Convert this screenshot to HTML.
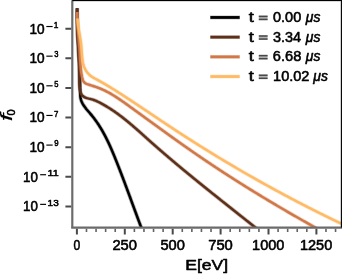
<!DOCTYPE html><html><head><meta charset="utf-8"><style>html,body{margin:0;padding:0;background:#fff;overflow:hidden}svg{display:block;will-change:transform}</style></head><body><svg xmlns="http://www.w3.org/2000/svg" width="342" height="274" viewBox="0 0 342 274"><defs><clipPath id="ax"><rect x="72.30" y="0.30" width="269.40" height="227.30"/></clipPath></defs><rect width="100%" height="100%" fill="#fff"/><g><g clip-path="url(#ax)" fill="none" stroke-width="2.5" stroke-linejoin="round" stroke-linecap="butt"><path d="M77.15,8.25 L77.13,9.29 L77.11,10.33 L77.10,11.37 L77.09,12.40 L77.09,13.42 L77.09,14.45 L77.09,15.47 L77.09,16.48 L77.10,17.50 L77.11,18.51 L77.12,19.52 L77.14,20.52 L77.16,21.52 L77.18,22.52 L77.20,23.52 L77.23,24.52 L77.26,25.51 L77.29,26.50 L77.32,27.49 L77.36,28.48 L77.40,29.46 L77.44,30.45 L77.48,31.43 L77.52,32.41 L77.56,33.39 L77.61,34.37 L77.66,35.35 L77.70,36.33 L77.75,37.31 L77.81,38.28 L77.86,39.26 L77.91,40.23 L77.97,41.21 L78.02,42.18 L78.08,43.16 L78.13,44.13 L78.19,45.11 L78.25,46.09 L78.31,47.06 L78.36,48.04 L78.42,49.02 L78.48,49.99 L78.54,50.97 L78.60,51.95 L78.66,52.94 L78.72,53.92 L78.77,54.90 L78.83,55.89 L78.89,56.88 L78.95,57.87 L79.00,58.86 L79.06,59.85 L79.11,60.85 L79.17,61.85 L79.22,62.85 L79.27,63.85 L79.32,64.85 L79.37,65.86 L79.42,66.87 L79.47,67.89 L79.51,68.90 L79.56,69.92 L79.60,70.95 L79.64,71.98 L79.68,73.01 L79.71,74.04 L79.75,75.08 L79.78,76.12 L79.81,77.17 L79.84,78.21 L79.87,79.26 L79.90,80.31 L79.92,81.36 L79.95,82.41 L79.97,83.45 L80.00,84.50 L80.02,85.54 L80.04,86.57 L80.07,87.60 L80.09,88.63 L80.12,89.65 L80.15,90.66 L80.18,91.66 L80.21,92.66 L80.24,93.64 L80.28,94.61 L80.32,95.58 L80.40,96.52 L80.50,97.46 L80.65,98.38 L80.85,99.28 L81.10,100.17 L81.41,101.04 L81.76,101.90 L82.15,102.75 L82.59,103.58 L83.06,104.40 L83.57,105.22 L84.10,106.02 L84.67,106.82 L85.26,107.61 L85.87,108.40 L86.49,109.18 L87.14,109.96 L87.79,110.73 L88.45,111.51 L89.11,112.28 L89.78,113.06 L90.44,113.83 L91.10,114.62 L91.75,115.40 L92.39,116.19 L93.02,116.99 L93.64,117.78 L94.25,118.59 L94.86,119.39 L95.45,120.20 L96.04,121.02 L96.61,121.84 L97.18,122.66 L97.74,123.49 L98.30,124.32 L98.84,125.15 L99.38,125.99 L99.91,126.83 L100.43,127.68 L100.95,128.52 L101.46,129.38 L101.96,130.23 L102.45,131.09 L102.94,131.95 L103.42,132.82 L103.90,133.68 L104.37,134.55 L104.84,135.43 L105.30,136.30 L105.75,137.18 L106.20,138.06 L106.64,138.95 L107.08,139.83 L107.51,140.72 L107.94,141.61 L108.37,142.51 L108.79,143.40 L109.20,144.30 L109.62,145.20 L110.02,146.10 L110.43,147.01 L110.83,147.91 L111.23,148.82 L111.62,149.73 L112.02,150.64 L112.40,151.56 L112.79,152.47 L113.18,153.39 L113.56,154.31 L113.94,155.22 L114.31,156.14 L114.69,157.07 L115.06,157.99 L115.44,158.91 L115.81,159.84 L116.18,160.76 L116.55,161.69 L116.92,162.62 L117.28,163.55 L117.65,164.47 L118.02,165.40 L118.38,166.33 L118.75,167.27 L119.11,168.20 L119.47,169.13 L119.83,170.06 L120.19,171.00 L120.55,171.93 L120.91,172.87 L121.27,173.80 L121.63,174.74 L121.99,175.68 L122.34,176.61 L122.70,177.55 L123.05,178.49 L123.41,179.43 L123.76,180.37 L124.12,181.31 L124.47,182.24 L124.82,183.18 L125.17,184.12 L125.52,185.07 L125.87,186.01 L126.23,186.95 L126.58,187.89 L126.93,188.83 L127.27,189.77 L127.62,190.71 L127.97,191.65 L128.32,192.59 L128.67,193.54 L129.02,194.48 L129.36,195.42 L129.71,196.36 L130.06,197.30 L130.40,198.24 L130.75,199.19 L131.10,200.13 L131.44,201.07 L131.79,202.01 L132.13,202.95 L132.48,203.89 L132.82,204.83 L133.17,205.77 L133.51,206.71 L133.86,207.65 L134.20,208.59 L134.55,209.53 L134.90,210.46 L135.24,211.40 L135.59,212.34 L135.93,213.28 L136.28,214.21 L136.62,215.15 L136.97,216.08 L137.31,217.02 L137.66,217.95 L138.01,218.88 L138.35,219.82 L138.70,220.75 L139.05,221.68 L139.39,222.61 L139.74,223.54 L140.09,224.47 L140.44,225.40 L140.79,226.33 L141.13,227.25 L141.48,228.18 L141.83,229.10 L142.18,230.03 L142.53,230.95" stroke="#000000" stroke-width="4.0" stroke-opacity="0.3"/><path d="M77.15,8.25 L77.13,9.29 L77.11,10.33 L77.10,11.37 L77.09,12.40 L77.09,13.42 L77.09,14.45 L77.09,15.47 L77.09,16.48 L77.10,17.50 L77.11,18.51 L77.12,19.52 L77.14,20.52 L77.16,21.52 L77.18,22.52 L77.20,23.52 L77.23,24.52 L77.26,25.51 L77.29,26.50 L77.32,27.49 L77.36,28.48 L77.40,29.46 L77.44,30.45 L77.48,31.43 L77.52,32.41 L77.56,33.39 L77.61,34.37 L77.66,35.35 L77.70,36.33 L77.75,37.31 L77.81,38.28 L77.86,39.26 L77.91,40.23 L77.97,41.21 L78.02,42.18 L78.08,43.16 L78.13,44.13 L78.19,45.11 L78.25,46.09 L78.31,47.06 L78.36,48.04 L78.42,49.02 L78.48,49.99 L78.54,50.97 L78.60,51.95 L78.66,52.94 L78.72,53.92 L78.77,54.90 L78.83,55.89 L78.89,56.88 L78.95,57.87 L79.00,58.86 L79.06,59.85 L79.11,60.85 L79.17,61.85 L79.22,62.85 L79.27,63.85 L79.32,64.85 L79.37,65.86 L79.42,66.87 L79.47,67.89 L79.51,68.90 L79.56,69.92 L79.60,70.95 L79.64,71.98 L79.68,73.01 L79.71,74.04 L79.75,75.08 L79.78,76.12 L79.81,77.17 L79.84,78.21 L79.87,79.26 L79.90,80.31 L79.92,81.36 L79.95,82.41 L79.97,83.45 L80.00,84.50 L80.02,85.54 L80.04,86.57 L80.07,87.60 L80.09,88.63 L80.12,89.65 L80.15,90.66 L80.18,91.66 L80.21,92.66 L80.24,93.64 L80.28,94.61 L80.32,95.58 L80.40,96.52 L80.50,97.46 L80.65,98.38 L80.85,99.28 L81.10,100.17 L81.41,101.04 L81.76,101.90 L82.15,102.75 L82.59,103.58 L83.06,104.40 L83.57,105.22 L84.10,106.02 L84.67,106.82 L85.26,107.61 L85.87,108.40 L86.49,109.18 L87.14,109.96 L87.79,110.73 L88.45,111.51 L89.11,112.28 L89.78,113.06 L90.44,113.83 L91.10,114.62 L91.75,115.40 L92.39,116.19 L93.02,116.99 L93.64,117.78 L94.25,118.59 L94.86,119.39 L95.45,120.20 L96.04,121.02 L96.61,121.84 L97.18,122.66 L97.74,123.49 L98.30,124.32 L98.84,125.15 L99.38,125.99 L99.91,126.83 L100.43,127.68 L100.95,128.52 L101.46,129.38 L101.96,130.23 L102.45,131.09 L102.94,131.95 L103.42,132.82 L103.90,133.68 L104.37,134.55 L104.84,135.43 L105.30,136.30 L105.75,137.18 L106.20,138.06 L106.64,138.95 L107.08,139.83 L107.51,140.72 L107.94,141.61 L108.37,142.51 L108.79,143.40 L109.20,144.30 L109.62,145.20 L110.02,146.10 L110.43,147.01 L110.83,147.91 L111.23,148.82 L111.62,149.73 L112.02,150.64 L112.40,151.56 L112.79,152.47 L113.18,153.39 L113.56,154.31 L113.94,155.22 L114.31,156.14 L114.69,157.07 L115.06,157.99 L115.44,158.91 L115.81,159.84 L116.18,160.76 L116.55,161.69 L116.92,162.62 L117.28,163.55 L117.65,164.47 L118.02,165.40 L118.38,166.33 L118.75,167.27 L119.11,168.20 L119.47,169.13 L119.83,170.06 L120.19,171.00 L120.55,171.93 L120.91,172.87 L121.27,173.80 L121.63,174.74 L121.99,175.68 L122.34,176.61 L122.70,177.55 L123.05,178.49 L123.41,179.43 L123.76,180.37 L124.12,181.31 L124.47,182.24 L124.82,183.18 L125.17,184.12 L125.52,185.07 L125.87,186.01 L126.23,186.95 L126.58,187.89 L126.93,188.83 L127.27,189.77 L127.62,190.71 L127.97,191.65 L128.32,192.59 L128.67,193.54 L129.02,194.48 L129.36,195.42 L129.71,196.36 L130.06,197.30 L130.40,198.24 L130.75,199.19 L131.10,200.13 L131.44,201.07 L131.79,202.01 L132.13,202.95 L132.48,203.89 L132.82,204.83 L133.17,205.77 L133.51,206.71 L133.86,207.65 L134.20,208.59 L134.55,209.53 L134.90,210.46 L135.24,211.40 L135.59,212.34 L135.93,213.28 L136.28,214.21 L136.62,215.15 L136.97,216.08 L137.31,217.02 L137.66,217.95 L138.01,218.88 L138.35,219.82 L138.70,220.75 L139.05,221.68 L139.39,222.61 L139.74,223.54 L140.09,224.47 L140.44,225.40 L140.79,226.33 L141.13,227.25 L141.48,228.18 L141.83,229.10 L142.18,230.03 L142.53,230.95" stroke="#000000"/><path d="M77.14,8.25 L77.12,9.30 L77.10,10.34 L77.09,11.38 L77.08,12.42 L77.08,13.45 L77.08,14.48 L77.08,15.50 L77.08,16.52 L77.09,17.54 L77.11,18.55 L77.12,19.56 L77.14,20.57 L77.16,21.57 L77.19,22.57 L77.21,23.57 L77.24,24.57 L77.28,25.56 L77.31,26.55 L77.35,27.54 L77.39,28.52 L77.43,29.51 L77.47,30.49 L77.51,31.47 L77.56,32.45 L77.60,33.43 L77.65,34.41 L77.70,35.38 L77.75,36.36 L77.80,37.33 L77.86,38.31 L77.91,39.28 L77.96,40.25 L78.02,41.22 L78.07,42.20 L78.13,43.17 L78.18,44.15 L78.24,45.12 L78.29,46.09 L78.35,47.07 L78.40,48.05 L78.46,49.02 L78.51,50.00 L78.56,50.98 L78.62,51.96 L78.67,52.95 L78.72,53.93 L78.77,54.92 L78.82,55.91 L78.86,56.90 L78.91,57.90 L78.95,58.89 L78.99,59.89 L79.03,60.89 L79.07,61.90 L79.11,62.91 L79.14,63.92 L79.17,64.94 L79.20,65.95 L79.23,66.98 L79.25,68.00 L79.28,69.03 L79.29,70.07 L79.31,71.11 L79.32,72.15 L79.33,73.20 L79.34,74.25 L79.34,75.31 L79.34,76.38 L79.34,77.44 L79.34,78.51 L79.34,79.57 L79.35,80.63 L79.36,81.68 L79.38,82.73 L79.41,83.77 L79.46,84.79 L79.52,85.80 L79.59,86.80 L79.68,87.77 L79.80,88.73 L79.93,89.66 L80.09,90.57 L80.28,91.45 L80.50,92.31 L80.78,93.13 L81.16,93.92 L81.64,94.68 L82.22,95.38 L82.89,96.03 L83.64,96.60 L84.44,97.09 L85.29,97.51 L86.17,97.86 L87.08,98.15 L88.02,98.41 L88.97,98.65 L89.93,98.87 L90.90,99.10 L91.86,99.35 L92.83,99.64 L93.78,99.96 L94.73,100.32 L95.67,100.71 L96.61,101.12 L97.54,101.55 L98.46,102.00 L99.38,102.47 L100.29,102.94 L101.20,103.42 L102.09,103.91 L102.99,104.40 L103.87,104.90 L104.76,105.40 L105.63,105.91 L106.50,106.43 L107.37,106.95 L108.23,107.48 L109.09,108.01 L109.94,108.55 L110.78,109.10 L111.62,109.65 L112.46,110.20 L113.29,110.76 L114.12,111.32 L114.94,111.89 L115.76,112.47 L116.58,113.05 L117.39,113.63 L118.20,114.22 L119.00,114.81 L119.80,115.40 L120.60,116.00 L121.39,116.61 L122.18,117.21 L122.97,117.82 L123.75,118.44 L124.53,119.05 L125.31,119.68 L126.08,120.30 L126.85,120.93 L127.62,121.56 L128.39,122.19 L129.16,122.82 L129.92,123.46 L130.68,124.10 L131.44,124.74 L132.19,125.39 L132.95,126.04 L133.70,126.68 L134.45,127.33 L135.20,127.99 L135.95,128.64 L136.70,129.30 L137.45,129.95 L138.19,130.61 L138.94,131.27 L139.68,131.93 L140.42,132.59 L141.16,133.26 L141.91,133.92 L142.65,134.58 L143.39,135.25 L144.13,135.91 L144.87,136.58 L145.61,137.24 L146.35,137.91 L147.09,138.57 L147.83,139.24 L148.58,139.90 L149.32,140.57 L150.06,141.23 L150.81,141.89 L151.55,142.56 L152.30,143.22 L153.04,143.88 L153.79,144.54 L154.54,145.20 L155.29,145.86 L156.04,146.52 L156.79,147.17 L157.54,147.83 L158.29,148.49 L159.04,149.14 L159.79,149.80 L160.55,150.45 L161.30,151.11 L162.06,151.76 L162.81,152.41 L163.57,153.07 L164.33,153.72 L165.08,154.37 L165.84,155.02 L166.60,155.67 L167.36,156.32 L168.12,156.97 L168.88,157.62 L169.64,158.26 L170.41,158.91 L171.17,159.56 L171.93,160.20 L172.70,160.85 L173.46,161.50 L174.23,162.14 L174.99,162.79 L175.76,163.43 L176.52,164.07 L177.29,164.72 L178.06,165.36 L178.83,166.00 L179.60,166.64 L180.36,167.28 L181.13,167.92 L181.90,168.56 L182.68,169.20 L183.45,169.84 L184.22,170.48 L184.99,171.12 L185.76,171.76 L186.53,172.39 L187.31,173.03 L188.08,173.67 L188.86,174.30 L189.63,174.94 L190.40,175.57 L191.18,176.21 L191.96,176.84 L192.73,177.48 L193.51,178.11 L194.28,178.75 L195.06,179.38 L195.84,180.01 L196.62,180.64 L197.39,181.28 L198.17,181.91 L198.95,182.54 L199.73,183.17 L200.51,183.80 L201.29,184.43 L202.07,185.06 L202.85,185.69 L203.63,186.32 L204.41,186.95 L205.19,187.58 L205.97,188.21 L206.75,188.83 L207.53,189.46 L208.31,190.09 L209.09,190.72 L209.87,191.34 L210.66,191.97 L211.44,192.60 L212.22,193.22 L213.00,193.85 L213.79,194.48 L214.57,195.10 L215.35,195.73 L216.13,196.35 L216.92,196.98 L217.70,197.60 L218.48,198.23 L219.27,198.85 L220.05,199.47 L220.83,200.10 L221.62,200.72 L222.40,201.35 L223.18,201.97 L223.97,202.59 L224.75,203.22 L225.54,203.84 L226.32,204.46 L227.10,205.08 L227.89,205.71 L228.67,206.33 L229.45,206.95 L230.24,207.57 L231.02,208.19 L231.80,208.82 L232.59,209.44 L233.37,210.06 L234.15,210.68 L234.94,211.30 L235.72,211.92 L236.50,212.54 L237.29,213.16 L238.07,213.78 L238.85,214.41 L239.63,215.03 L240.42,215.65 L241.20,216.27 L241.98,216.89 L242.76,217.51 L243.55,218.13 L244.33,218.75 L245.11,219.37 L245.89,219.99 L246.67,220.61 L247.45,221.23 L248.23,221.85 L249.01,222.47 L249.79,223.09 L250.57,223.71 L251.35,224.33 L252.13,224.95 L252.91,225.57 L253.69,226.19 L254.47,226.81 L255.25,227.43 L256.03,228.05 L256.80,228.67 L257.58,229.29 L258.36,229.91 L259.13,230.54 L259.91,231.16" stroke="#5e301a" stroke-width="4.0" stroke-opacity="0.3"/><path d="M77.14,8.25 L77.12,9.30 L77.10,10.34 L77.09,11.38 L77.08,12.42 L77.08,13.45 L77.08,14.48 L77.08,15.50 L77.08,16.52 L77.09,17.54 L77.11,18.55 L77.12,19.56 L77.14,20.57 L77.16,21.57 L77.19,22.57 L77.21,23.57 L77.24,24.57 L77.28,25.56 L77.31,26.55 L77.35,27.54 L77.39,28.52 L77.43,29.51 L77.47,30.49 L77.51,31.47 L77.56,32.45 L77.60,33.43 L77.65,34.41 L77.70,35.38 L77.75,36.36 L77.80,37.33 L77.86,38.31 L77.91,39.28 L77.96,40.25 L78.02,41.22 L78.07,42.20 L78.13,43.17 L78.18,44.15 L78.24,45.12 L78.29,46.09 L78.35,47.07 L78.40,48.05 L78.46,49.02 L78.51,50.00 L78.56,50.98 L78.62,51.96 L78.67,52.95 L78.72,53.93 L78.77,54.92 L78.82,55.91 L78.86,56.90 L78.91,57.90 L78.95,58.89 L78.99,59.89 L79.03,60.89 L79.07,61.90 L79.11,62.91 L79.14,63.92 L79.17,64.94 L79.20,65.95 L79.23,66.98 L79.25,68.00 L79.28,69.03 L79.29,70.07 L79.31,71.11 L79.32,72.15 L79.33,73.20 L79.34,74.25 L79.34,75.31 L79.34,76.38 L79.34,77.44 L79.34,78.51 L79.34,79.57 L79.35,80.63 L79.36,81.68 L79.38,82.73 L79.41,83.77 L79.46,84.79 L79.52,85.80 L79.59,86.80 L79.68,87.77 L79.80,88.73 L79.93,89.66 L80.09,90.57 L80.28,91.45 L80.50,92.31 L80.78,93.13 L81.16,93.92 L81.64,94.68 L82.22,95.38 L82.89,96.03 L83.64,96.60 L84.44,97.09 L85.29,97.51 L86.17,97.86 L87.08,98.15 L88.02,98.41 L88.97,98.65 L89.93,98.87 L90.90,99.10 L91.86,99.35 L92.83,99.64 L93.78,99.96 L94.73,100.32 L95.67,100.71 L96.61,101.12 L97.54,101.55 L98.46,102.00 L99.38,102.47 L100.29,102.94 L101.20,103.42 L102.09,103.91 L102.99,104.40 L103.87,104.90 L104.76,105.40 L105.63,105.91 L106.50,106.43 L107.37,106.95 L108.23,107.48 L109.09,108.01 L109.94,108.55 L110.78,109.10 L111.62,109.65 L112.46,110.20 L113.29,110.76 L114.12,111.32 L114.94,111.89 L115.76,112.47 L116.58,113.05 L117.39,113.63 L118.20,114.22 L119.00,114.81 L119.80,115.40 L120.60,116.00 L121.39,116.61 L122.18,117.21 L122.97,117.82 L123.75,118.44 L124.53,119.05 L125.31,119.68 L126.08,120.30 L126.85,120.93 L127.62,121.56 L128.39,122.19 L129.16,122.82 L129.92,123.46 L130.68,124.10 L131.44,124.74 L132.19,125.39 L132.95,126.04 L133.70,126.68 L134.45,127.33 L135.20,127.99 L135.95,128.64 L136.70,129.30 L137.45,129.95 L138.19,130.61 L138.94,131.27 L139.68,131.93 L140.42,132.59 L141.16,133.26 L141.91,133.92 L142.65,134.58 L143.39,135.25 L144.13,135.91 L144.87,136.58 L145.61,137.24 L146.35,137.91 L147.09,138.57 L147.83,139.24 L148.58,139.90 L149.32,140.57 L150.06,141.23 L150.81,141.89 L151.55,142.56 L152.30,143.22 L153.04,143.88 L153.79,144.54 L154.54,145.20 L155.29,145.86 L156.04,146.52 L156.79,147.17 L157.54,147.83 L158.29,148.49 L159.04,149.14 L159.79,149.80 L160.55,150.45 L161.30,151.11 L162.06,151.76 L162.81,152.41 L163.57,153.07 L164.33,153.72 L165.08,154.37 L165.84,155.02 L166.60,155.67 L167.36,156.32 L168.12,156.97 L168.88,157.62 L169.64,158.26 L170.41,158.91 L171.17,159.56 L171.93,160.20 L172.70,160.85 L173.46,161.50 L174.23,162.14 L174.99,162.79 L175.76,163.43 L176.52,164.07 L177.29,164.72 L178.06,165.36 L178.83,166.00 L179.60,166.64 L180.36,167.28 L181.13,167.92 L181.90,168.56 L182.68,169.20 L183.45,169.84 L184.22,170.48 L184.99,171.12 L185.76,171.76 L186.53,172.39 L187.31,173.03 L188.08,173.67 L188.86,174.30 L189.63,174.94 L190.40,175.57 L191.18,176.21 L191.96,176.84 L192.73,177.48 L193.51,178.11 L194.28,178.75 L195.06,179.38 L195.84,180.01 L196.62,180.64 L197.39,181.28 L198.17,181.91 L198.95,182.54 L199.73,183.17 L200.51,183.80 L201.29,184.43 L202.07,185.06 L202.85,185.69 L203.63,186.32 L204.41,186.95 L205.19,187.58 L205.97,188.21 L206.75,188.83 L207.53,189.46 L208.31,190.09 L209.09,190.72 L209.87,191.34 L210.66,191.97 L211.44,192.60 L212.22,193.22 L213.00,193.85 L213.79,194.48 L214.57,195.10 L215.35,195.73 L216.13,196.35 L216.92,196.98 L217.70,197.60 L218.48,198.23 L219.27,198.85 L220.05,199.47 L220.83,200.10 L221.62,200.72 L222.40,201.35 L223.18,201.97 L223.97,202.59 L224.75,203.22 L225.54,203.84 L226.32,204.46 L227.10,205.08 L227.89,205.71 L228.67,206.33 L229.45,206.95 L230.24,207.57 L231.02,208.19 L231.80,208.82 L232.59,209.44 L233.37,210.06 L234.15,210.68 L234.94,211.30 L235.72,211.92 L236.50,212.54 L237.29,213.16 L238.07,213.78 L238.85,214.41 L239.63,215.03 L240.42,215.65 L241.20,216.27 L241.98,216.89 L242.76,217.51 L243.55,218.13 L244.33,218.75 L245.11,219.37 L245.89,219.99 L246.67,220.61 L247.45,221.23 L248.23,221.85 L249.01,222.47 L249.79,223.09 L250.57,223.71 L251.35,224.33 L252.13,224.95 L252.91,225.57 L253.69,226.19 L254.47,226.81 L255.25,227.43 L256.03,228.05 L256.80,228.67 L257.58,229.29 L258.36,229.91 L259.13,230.54 L259.91,231.16" stroke="#5e301a"/><path d="M77.25,12.05 L77.24,13.03 L77.24,14.01 L77.24,14.99 L77.26,15.97 L77.27,16.96 L77.30,17.95 L77.33,18.94 L77.36,19.93 L77.40,20.92 L77.45,21.91 L77.50,22.90 L77.56,23.90 L77.62,24.89 L77.68,25.89 L77.75,26.88 L77.82,27.88 L77.89,28.88 L77.96,29.88 L78.04,30.88 L78.12,31.88 L78.20,32.88 L78.29,33.89 L78.37,34.89 L78.46,35.89 L78.54,36.90 L78.63,37.90 L78.72,38.90 L78.80,39.91 L78.89,40.91 L78.98,41.92 L79.06,42.92 L79.14,43.93 L79.23,44.93 L79.31,45.94 L79.38,46.94 L79.46,47.95 L79.53,48.95 L79.60,49.95 L79.66,50.96 L79.73,51.96 L79.79,52.96 L79.84,53.97 L79.89,54.97 L79.94,55.97 L79.99,56.97 L80.04,57.97 L80.09,58.97 L80.15,59.97 L80.20,60.97 L80.26,61.96 L80.32,62.96 L80.38,63.96 L80.45,64.95 L80.53,65.94 L80.62,66.93 L80.71,67.93 L80.81,68.91 L80.92,69.90 L81.04,70.89 L81.17,71.88 L81.31,72.86 L81.46,73.84 L81.63,74.82 L81.81,75.80 L82.00,76.78 L82.22,77.76 L82.46,78.72 L82.74,79.65 L83.09,80.53 L83.51,81.36 L84.02,82.10 L84.65,82.75 L85.40,83.29 L86.26,83.74 L87.19,84.11 L88.15,84.44 L89.11,84.75 L90.07,85.06 L91.01,85.36 L91.95,85.66 L92.88,85.95 L93.80,86.25 L94.71,86.55 L95.62,86.85 L96.52,87.16 L97.42,87.47 L98.31,87.80 L99.20,88.14 L100.09,88.49 L100.98,88.85 L101.86,89.23 L102.74,89.62 L103.62,90.03 L104.50,90.44 L105.38,90.87 L106.25,91.32 L107.13,91.77 L108.00,92.24 L108.87,92.71 L109.73,93.20 L110.60,93.69 L111.46,94.20 L112.33,94.71 L113.19,95.23 L114.05,95.76 L114.90,96.30 L115.76,96.84 L116.61,97.40 L117.47,97.95 L118.32,98.52 L119.17,99.09 L120.02,99.66 L120.86,100.24 L121.71,100.82 L122.55,101.41 L123.39,102.00 L124.24,102.59 L125.08,103.19 L125.91,103.79 L126.75,104.39 L127.59,104.99 L128.42,105.59 L129.25,106.19 L130.09,106.79 L130.92,107.39 L131.75,107.99 L132.58,108.59 L133.40,109.19 L134.23,109.79 L135.06,110.39 L135.88,110.99 L136.70,111.59 L137.53,112.18 L138.35,112.78 L139.17,113.38 L139.99,113.97 L140.81,114.57 L141.63,115.16 L142.44,115.76 L143.26,116.35 L144.07,116.94 L144.89,117.53 L145.70,118.13 L146.52,118.72 L147.33,119.31 L148.14,119.90 L148.95,120.49 L149.76,121.08 L150.57,121.66 L151.38,122.25 L152.19,122.84 L153.00,123.43 L153.81,124.01 L154.61,124.60 L155.42,125.19 L156.23,125.77 L157.03,126.36 L157.84,126.94 L158.64,127.52 L159.45,128.11 L160.25,128.69 L161.06,129.27 L161.86,129.85 L162.67,130.43 L163.47,131.01 L164.27,131.59 L165.08,132.17 L165.88,132.75 L166.68,133.33 L167.48,133.91 L168.29,134.49 L169.09,135.06 L169.89,135.64 L170.69,136.22 L171.50,136.79 L172.30,137.37 L173.10,137.94 L173.90,138.52 L174.71,139.09 L175.51,139.66 L176.31,140.24 L177.12,140.81 L177.92,141.38 L178.72,141.95 L179.53,142.52 L180.33,143.09 L181.14,143.66 L181.94,144.23 L182.75,144.80 L183.55,145.37 L184.36,145.94 L185.16,146.51 L185.97,147.07 L186.78,147.64 L187.58,148.21 L188.39,148.77 L189.20,149.34 L190.01,149.90 L190.82,150.47 L191.63,151.03 L192.44,151.60 L193.25,152.16 L194.07,152.72 L194.88,153.28 L195.69,153.85 L196.51,154.41 L197.32,154.97 L198.14,155.53 L198.96,156.09 L199.77,156.65 L200.59,157.21 L201.41,157.77 L202.23,158.32 L203.05,158.88 L203.88,159.44 L204.70,160.00 L205.52,160.55 L206.35,161.11 L207.17,161.66 L208.00,162.22 L208.82,162.77 L209.65,163.33 L210.48,163.88 L211.31,164.43 L212.14,164.99 L212.97,165.54 L213.80,166.09 L214.63,166.64 L215.47,167.19 L216.30,167.74 L217.13,168.29 L217.97,168.84 L218.80,169.39 L219.64,169.94 L220.48,170.49 L221.31,171.04 L222.15,171.58 L222.99,172.13 L223.83,172.68 L224.67,173.22 L225.51,173.77 L226.35,174.31 L227.20,174.86 L228.04,175.40 L228.88,175.94 L229.72,176.48 L230.57,177.03 L231.41,177.57 L232.26,178.11 L233.11,178.65 L233.95,179.19 L234.80,179.73 L235.65,180.27 L236.49,180.81 L237.34,181.34 L238.19,181.88 L239.04,182.42 L239.89,182.95 L240.74,183.49 L241.59,184.02 L242.45,184.56 L243.30,185.09 L244.15,185.63 L245.00,186.16 L245.86,186.69 L246.71,187.22 L247.56,187.75 L248.42,188.29 L249.27,188.82 L250.13,189.34 L250.98,189.87 L251.84,190.40 L252.70,190.93 L253.55,191.46 L254.41,191.98 L255.27,192.51 L256.12,193.03 L256.98,193.56 L257.84,194.08 L258.70,194.61 L259.56,195.13 L260.42,195.65 L261.28,196.18 L262.14,196.70 L263.00,197.22 L263.86,197.74 L264.72,198.26 L265.58,198.78 L266.44,199.29 L267.30,199.81 L268.16,200.33 L269.02,200.85 L269.89,201.36 L270.75,201.88 L271.61,202.39 L272.47,202.91 L273.34,203.42 L274.20,203.93 L275.06,204.44 L275.93,204.95 L276.79,205.47 L277.65,205.98 L278.52,206.49 L279.38,206.99 L280.24,207.50 L281.11,208.01 L281.97,208.52 L282.83,209.02 L283.70,209.53 L284.56,210.03 L285.43,210.54 L286.29,211.04 L287.16,211.55 L288.02,212.05 L288.88,212.55 L289.75,213.05 L290.61,213.55 L291.48,214.05 L292.34,214.55 L293.21,215.05 L294.07,215.55 L294.93,216.04 L295.80,216.54 L296.66,217.03 L297.53,217.53 L298.39,218.02 L299.25,218.52 L300.12,219.01 L300.98,219.50 L301.85,219.99 L302.71,220.48 L303.57,220.97 L304.44,221.46 L305.30,221.95 L306.16,222.44 L307.03,222.93 L307.89,223.41 L308.75,223.90 L309.61,224.39 L310.48,224.87 L311.34,225.35 L312.20,225.84 L313.06,226.32 L313.92,226.80 L314.79,227.28 L315.65,227.76 L316.51,228.24 L317.37,228.72 L318.23,229.20 L319.09,229.67 L319.95,230.15" stroke="#d07848" stroke-width="4.0" stroke-opacity="0.3"/><path d="M77.25,12.05 L77.24,13.03 L77.24,14.01 L77.24,14.99 L77.26,15.97 L77.27,16.96 L77.30,17.95 L77.33,18.94 L77.36,19.93 L77.40,20.92 L77.45,21.91 L77.50,22.90 L77.56,23.90 L77.62,24.89 L77.68,25.89 L77.75,26.88 L77.82,27.88 L77.89,28.88 L77.96,29.88 L78.04,30.88 L78.12,31.88 L78.20,32.88 L78.29,33.89 L78.37,34.89 L78.46,35.89 L78.54,36.90 L78.63,37.90 L78.72,38.90 L78.80,39.91 L78.89,40.91 L78.98,41.92 L79.06,42.92 L79.14,43.93 L79.23,44.93 L79.31,45.94 L79.38,46.94 L79.46,47.95 L79.53,48.95 L79.60,49.95 L79.66,50.96 L79.73,51.96 L79.79,52.96 L79.84,53.97 L79.89,54.97 L79.94,55.97 L79.99,56.97 L80.04,57.97 L80.09,58.97 L80.15,59.97 L80.20,60.97 L80.26,61.96 L80.32,62.96 L80.38,63.96 L80.45,64.95 L80.53,65.94 L80.62,66.93 L80.71,67.93 L80.81,68.91 L80.92,69.90 L81.04,70.89 L81.17,71.88 L81.31,72.86 L81.46,73.84 L81.63,74.82 L81.81,75.80 L82.00,76.78 L82.22,77.76 L82.46,78.72 L82.74,79.65 L83.09,80.53 L83.51,81.36 L84.02,82.10 L84.65,82.75 L85.40,83.29 L86.26,83.74 L87.19,84.11 L88.15,84.44 L89.11,84.75 L90.07,85.06 L91.01,85.36 L91.95,85.66 L92.88,85.95 L93.80,86.25 L94.71,86.55 L95.62,86.85 L96.52,87.16 L97.42,87.47 L98.31,87.80 L99.20,88.14 L100.09,88.49 L100.98,88.85 L101.86,89.23 L102.74,89.62 L103.62,90.03 L104.50,90.44 L105.38,90.87 L106.25,91.32 L107.13,91.77 L108.00,92.24 L108.87,92.71 L109.73,93.20 L110.60,93.69 L111.46,94.20 L112.33,94.71 L113.19,95.23 L114.05,95.76 L114.90,96.30 L115.76,96.84 L116.61,97.40 L117.47,97.95 L118.32,98.52 L119.17,99.09 L120.02,99.66 L120.86,100.24 L121.71,100.82 L122.55,101.41 L123.39,102.00 L124.24,102.59 L125.08,103.19 L125.91,103.79 L126.75,104.39 L127.59,104.99 L128.42,105.59 L129.25,106.19 L130.09,106.79 L130.92,107.39 L131.75,107.99 L132.58,108.59 L133.40,109.19 L134.23,109.79 L135.06,110.39 L135.88,110.99 L136.70,111.59 L137.53,112.18 L138.35,112.78 L139.17,113.38 L139.99,113.97 L140.81,114.57 L141.63,115.16 L142.44,115.76 L143.26,116.35 L144.07,116.94 L144.89,117.53 L145.70,118.13 L146.52,118.72 L147.33,119.31 L148.14,119.90 L148.95,120.49 L149.76,121.08 L150.57,121.66 L151.38,122.25 L152.19,122.84 L153.00,123.43 L153.81,124.01 L154.61,124.60 L155.42,125.19 L156.23,125.77 L157.03,126.36 L157.84,126.94 L158.64,127.52 L159.45,128.11 L160.25,128.69 L161.06,129.27 L161.86,129.85 L162.67,130.43 L163.47,131.01 L164.27,131.59 L165.08,132.17 L165.88,132.75 L166.68,133.33 L167.48,133.91 L168.29,134.49 L169.09,135.06 L169.89,135.64 L170.69,136.22 L171.50,136.79 L172.30,137.37 L173.10,137.94 L173.90,138.52 L174.71,139.09 L175.51,139.66 L176.31,140.24 L177.12,140.81 L177.92,141.38 L178.72,141.95 L179.53,142.52 L180.33,143.09 L181.14,143.66 L181.94,144.23 L182.75,144.80 L183.55,145.37 L184.36,145.94 L185.16,146.51 L185.97,147.07 L186.78,147.64 L187.58,148.21 L188.39,148.77 L189.20,149.34 L190.01,149.90 L190.82,150.47 L191.63,151.03 L192.44,151.60 L193.25,152.16 L194.07,152.72 L194.88,153.28 L195.69,153.85 L196.51,154.41 L197.32,154.97 L198.14,155.53 L198.96,156.09 L199.77,156.65 L200.59,157.21 L201.41,157.77 L202.23,158.32 L203.05,158.88 L203.88,159.44 L204.70,160.00 L205.52,160.55 L206.35,161.11 L207.17,161.66 L208.00,162.22 L208.82,162.77 L209.65,163.33 L210.48,163.88 L211.31,164.43 L212.14,164.99 L212.97,165.54 L213.80,166.09 L214.63,166.64 L215.47,167.19 L216.30,167.74 L217.13,168.29 L217.97,168.84 L218.80,169.39 L219.64,169.94 L220.48,170.49 L221.31,171.04 L222.15,171.58 L222.99,172.13 L223.83,172.68 L224.67,173.22 L225.51,173.77 L226.35,174.31 L227.20,174.86 L228.04,175.40 L228.88,175.94 L229.72,176.48 L230.57,177.03 L231.41,177.57 L232.26,178.11 L233.11,178.65 L233.95,179.19 L234.80,179.73 L235.65,180.27 L236.49,180.81 L237.34,181.34 L238.19,181.88 L239.04,182.42 L239.89,182.95 L240.74,183.49 L241.59,184.02 L242.45,184.56 L243.30,185.09 L244.15,185.63 L245.00,186.16 L245.86,186.69 L246.71,187.22 L247.56,187.75 L248.42,188.29 L249.27,188.82 L250.13,189.34 L250.98,189.87 L251.84,190.40 L252.70,190.93 L253.55,191.46 L254.41,191.98 L255.27,192.51 L256.12,193.03 L256.98,193.56 L257.84,194.08 L258.70,194.61 L259.56,195.13 L260.42,195.65 L261.28,196.18 L262.14,196.70 L263.00,197.22 L263.86,197.74 L264.72,198.26 L265.58,198.78 L266.44,199.29 L267.30,199.81 L268.16,200.33 L269.02,200.85 L269.89,201.36 L270.75,201.88 L271.61,202.39 L272.47,202.91 L273.34,203.42 L274.20,203.93 L275.06,204.44 L275.93,204.95 L276.79,205.47 L277.65,205.98 L278.52,206.49 L279.38,206.99 L280.24,207.50 L281.11,208.01 L281.97,208.52 L282.83,209.02 L283.70,209.53 L284.56,210.03 L285.43,210.54 L286.29,211.04 L287.16,211.55 L288.02,212.05 L288.88,212.55 L289.75,213.05 L290.61,213.55 L291.48,214.05 L292.34,214.55 L293.21,215.05 L294.07,215.55 L294.93,216.04 L295.80,216.54 L296.66,217.03 L297.53,217.53 L298.39,218.02 L299.25,218.52 L300.12,219.01 L300.98,219.50 L301.85,219.99 L302.71,220.48 L303.57,220.97 L304.44,221.46 L305.30,221.95 L306.16,222.44 L307.03,222.93 L307.89,223.41 L308.75,223.90 L309.61,224.39 L310.48,224.87 L311.34,225.35 L312.20,225.84 L313.06,226.32 L313.92,226.80 L314.79,227.28 L315.65,227.76 L316.51,228.24 L317.37,228.72 L318.23,229.20 L319.09,229.67 L319.95,230.15" stroke="#d07848"/><path d="M77.57,18.45 L77.63,19.50 L77.70,20.54 L77.78,21.57 L77.87,22.58 L77.98,23.59 L78.10,24.60 L78.22,25.59 L78.36,26.58 L78.50,27.56 L78.64,28.53 L78.80,29.51 L78.96,30.47 L79.12,31.44 L79.28,32.40 L79.45,33.36 L79.61,34.32 L79.78,35.28 L79.94,36.24 L80.10,37.20 L80.26,38.17 L80.42,39.13 L80.57,40.11 L80.71,41.08 L80.85,42.06 L80.97,43.05 L81.09,44.05 L81.20,45.05 L81.30,46.06 L81.39,47.08 L81.47,48.10 L81.54,49.14 L81.61,50.17 L81.67,51.21 L81.74,52.26 L81.80,53.30 L81.88,54.34 L81.96,55.38 L82.05,56.42 L82.15,57.45 L82.26,58.48 L82.39,59.50 L82.54,60.51 L82.71,61.52 L82.90,62.51 L83.12,63.48 L83.37,64.45 L83.64,65.40 L83.95,66.33 L84.29,67.24 L84.67,68.14 L85.08,69.01 L85.53,69.87 L86.02,70.69 L86.54,71.50 L87.10,72.27 L87.69,73.02 L88.32,73.73 L88.98,74.41 L89.68,75.06 L90.41,75.67 L91.17,76.24 L91.97,76.79 L92.78,77.31 L93.62,77.80 L94.47,78.29 L95.33,78.76 L96.20,79.23 L97.07,79.71 L97.94,80.18 L98.81,80.66 L99.67,81.14 L100.54,81.62 L101.40,82.11 L102.26,82.61 L103.12,83.10 L103.98,83.60 L104.84,84.10 L105.70,84.60 L106.56,85.11 L107.42,85.62 L108.27,86.13 L109.13,86.65 L109.98,87.16 L110.84,87.68 L111.69,88.20 L112.54,88.73 L113.39,89.25 L114.24,89.78 L115.09,90.31 L115.94,90.85 L116.78,91.38 L117.63,91.92 L118.48,92.45 L119.32,92.99 L120.17,93.53 L121.01,94.07 L121.86,94.62 L122.70,95.16 L123.54,95.71 L124.38,96.25 L125.22,96.80 L126.06,97.35 L126.90,97.90 L127.74,98.45 L128.58,99.00 L129.42,99.55 L130.26,100.10 L131.09,100.66 L131.93,101.21 L132.77,101.76 L133.60,102.32 L134.44,102.87 L135.27,103.42 L136.11,103.98 L136.94,104.53 L137.78,105.09 L138.61,105.64 L139.44,106.20 L140.28,106.75 L141.11,107.31 L141.94,107.87 L142.77,108.42 L143.60,108.98 L144.44,109.54 L145.27,110.09 L146.10,110.65 L146.93,111.21 L147.76,111.76 L148.59,112.32 L149.42,112.88 L150.25,113.43 L151.08,113.99 L151.91,114.55 L152.74,115.11 L153.57,115.66 L154.41,116.22 L155.24,116.78 L156.07,117.33 L156.90,117.89 L157.73,118.44 L158.56,119.00 L159.39,119.56 L160.22,120.11 L161.05,120.67 L161.88,121.22 L162.71,121.78 L163.54,122.33 L164.37,122.88 L165.20,123.44 L166.03,123.99 L166.87,124.54 L167.70,125.10 L168.53,125.65 L169.36,126.20 L170.20,126.75 L171.03,127.30 L171.86,127.85 L172.70,128.40 L173.53,128.95 L174.37,129.50 L175.20,130.05 L176.04,130.60 L176.87,131.14 L177.71,131.69 L178.54,132.23 L179.38,132.78 L180.22,133.32 L181.05,133.87 L181.89,134.41 L182.73,134.95 L183.57,135.50 L184.41,136.04 L185.25,136.58 L186.09,137.12 L186.93,137.66 L187.77,138.20 L188.61,138.74 L189.45,139.28 L190.29,139.81 L191.13,140.35 L191.98,140.89 L192.82,141.42 L193.66,141.96 L194.51,142.49 L195.35,143.03 L196.19,143.56 L197.04,144.09 L197.88,144.63 L198.73,145.16 L199.58,145.69 L200.42,146.22 L201.27,146.75 L202.12,147.28 L202.96,147.81 L203.81,148.33 L204.66,148.86 L205.51,149.39 L206.36,149.92 L207.21,150.44 L208.06,150.97 L208.91,151.49 L209.76,152.01 L210.61,152.54 L211.46,153.06 L212.31,153.58 L213.16,154.10 L214.01,154.63 L214.87,155.15 L215.72,155.67 L216.57,156.18 L217.43,156.70 L218.28,157.22 L219.13,157.74 L219.99,158.26 L220.84,158.77 L221.70,159.29 L222.56,159.80 L223.41,160.32 L224.27,160.83 L225.13,161.34 L225.98,161.86 L226.84,162.37 L227.70,162.88 L228.56,163.39 L229.42,163.90 L230.27,164.41 L231.13,164.92 L231.99,165.43 L232.85,165.94 L233.71,166.44 L234.58,166.95 L235.44,167.45 L236.30,167.96 L237.16,168.46 L238.02,168.97 L238.89,169.47 L239.75,169.98 L240.61,170.48 L241.48,170.98 L242.34,171.48 L243.21,171.98 L244.07,172.48 L244.94,172.98 L245.80,173.48 L246.67,173.98 L247.53,174.47 L248.40,174.97 L249.27,175.47 L250.13,175.96 L251.00,176.46 L251.87,176.95 L252.74,177.45 L253.61,177.94 L254.48,178.43 L255.35,178.92 L256.22,179.42 L257.09,179.91 L257.96,180.40 L258.83,180.89 L259.70,181.37 L260.57,181.86 L261.44,182.35 L262.32,182.84 L263.19,183.32 L264.06,183.81 L264.94,184.29 L265.81,184.78 L266.68,185.26 L267.56,185.75 L268.43,186.23 L269.31,186.71 L270.18,187.19 L271.06,187.67 L271.93,188.15 L272.81,188.63 L273.69,189.11 L274.57,189.59 L275.44,190.07 L276.32,190.55 L277.20,191.02 L278.08,191.50 L278.96,191.97 L279.84,192.45 L280.72,192.92 L281.60,193.40 L282.48,193.87 L283.36,194.34 L284.24,194.81 L285.12,195.28 L286.00,195.75 L286.88,196.22 L287.77,196.69 L288.65,197.16 L289.53,197.63 L290.41,198.10 L291.30,198.56 L292.18,199.03 L293.07,199.49 L293.95,199.96 L294.84,200.42 L295.72,200.89 L296.61,201.35 L297.49,201.81 L298.38,202.27 L299.27,202.73 L300.15,203.19 L301.04,203.65 L301.93,204.11 L302.82,204.57 L303.71,205.03 L304.59,205.48 L305.48,205.94 L306.37,206.40 L307.26,206.85 L308.15,207.31 L309.04,207.76 L309.93,208.21 L310.82,208.67 L311.72,209.12 L312.61,209.57 L313.50,210.02 L314.39,210.47 L315.28,210.92 L316.18,211.37 L317.07,211.82 L317.97,212.26 L318.86,212.71 L319.75,213.16 L320.65,213.60 L321.54,214.05 L322.44,214.49 L323.33,214.94 L324.23,215.38 L325.13,215.82 L326.02,216.26 L326.92,216.71 L327.82,217.15 L328.71,217.59 L329.61,218.03 L330.51,218.46 L331.41,218.90 L332.31,219.34 L333.21,219.78 L334.11,220.21 L335.01,220.65 L335.91,221.08 L336.81,221.52 L337.71,221.95 L338.61,222.38 L339.51,222.82 L340.41,223.25 L341.32,223.68 L342.22,224.11 L343.12,224.54 L344.02,224.97" stroke="#ffba66" stroke-width="4.0" stroke-opacity="0.3"/><path d="M77.57,18.45 L77.63,19.50 L77.70,20.54 L77.78,21.57 L77.87,22.58 L77.98,23.59 L78.10,24.60 L78.22,25.59 L78.36,26.58 L78.50,27.56 L78.64,28.53 L78.80,29.51 L78.96,30.47 L79.12,31.44 L79.28,32.40 L79.45,33.36 L79.61,34.32 L79.78,35.28 L79.94,36.24 L80.10,37.20 L80.26,38.17 L80.42,39.13 L80.57,40.11 L80.71,41.08 L80.85,42.06 L80.97,43.05 L81.09,44.05 L81.20,45.05 L81.30,46.06 L81.39,47.08 L81.47,48.10 L81.54,49.14 L81.61,50.17 L81.67,51.21 L81.74,52.26 L81.80,53.30 L81.88,54.34 L81.96,55.38 L82.05,56.42 L82.15,57.45 L82.26,58.48 L82.39,59.50 L82.54,60.51 L82.71,61.52 L82.90,62.51 L83.12,63.48 L83.37,64.45 L83.64,65.40 L83.95,66.33 L84.29,67.24 L84.67,68.14 L85.08,69.01 L85.53,69.87 L86.02,70.69 L86.54,71.50 L87.10,72.27 L87.69,73.02 L88.32,73.73 L88.98,74.41 L89.68,75.06 L90.41,75.67 L91.17,76.24 L91.97,76.79 L92.78,77.31 L93.62,77.80 L94.47,78.29 L95.33,78.76 L96.20,79.23 L97.07,79.71 L97.94,80.18 L98.81,80.66 L99.67,81.14 L100.54,81.62 L101.40,82.11 L102.26,82.61 L103.12,83.10 L103.98,83.60 L104.84,84.10 L105.70,84.60 L106.56,85.11 L107.42,85.62 L108.27,86.13 L109.13,86.65 L109.98,87.16 L110.84,87.68 L111.69,88.20 L112.54,88.73 L113.39,89.25 L114.24,89.78 L115.09,90.31 L115.94,90.85 L116.78,91.38 L117.63,91.92 L118.48,92.45 L119.32,92.99 L120.17,93.53 L121.01,94.07 L121.86,94.62 L122.70,95.16 L123.54,95.71 L124.38,96.25 L125.22,96.80 L126.06,97.35 L126.90,97.90 L127.74,98.45 L128.58,99.00 L129.42,99.55 L130.26,100.10 L131.09,100.66 L131.93,101.21 L132.77,101.76 L133.60,102.32 L134.44,102.87 L135.27,103.42 L136.11,103.98 L136.94,104.53 L137.78,105.09 L138.61,105.64 L139.44,106.20 L140.28,106.75 L141.11,107.31 L141.94,107.87 L142.77,108.42 L143.60,108.98 L144.44,109.54 L145.27,110.09 L146.10,110.65 L146.93,111.21 L147.76,111.76 L148.59,112.32 L149.42,112.88 L150.25,113.43 L151.08,113.99 L151.91,114.55 L152.74,115.11 L153.57,115.66 L154.41,116.22 L155.24,116.78 L156.07,117.33 L156.90,117.89 L157.73,118.44 L158.56,119.00 L159.39,119.56 L160.22,120.11 L161.05,120.67 L161.88,121.22 L162.71,121.78 L163.54,122.33 L164.37,122.88 L165.20,123.44 L166.03,123.99 L166.87,124.54 L167.70,125.10 L168.53,125.65 L169.36,126.20 L170.20,126.75 L171.03,127.30 L171.86,127.85 L172.70,128.40 L173.53,128.95 L174.37,129.50 L175.20,130.05 L176.04,130.60 L176.87,131.14 L177.71,131.69 L178.54,132.23 L179.38,132.78 L180.22,133.32 L181.05,133.87 L181.89,134.41 L182.73,134.95 L183.57,135.50 L184.41,136.04 L185.25,136.58 L186.09,137.12 L186.93,137.66 L187.77,138.20 L188.61,138.74 L189.45,139.28 L190.29,139.81 L191.13,140.35 L191.98,140.89 L192.82,141.42 L193.66,141.96 L194.51,142.49 L195.35,143.03 L196.19,143.56 L197.04,144.09 L197.88,144.63 L198.73,145.16 L199.58,145.69 L200.42,146.22 L201.27,146.75 L202.12,147.28 L202.96,147.81 L203.81,148.33 L204.66,148.86 L205.51,149.39 L206.36,149.92 L207.21,150.44 L208.06,150.97 L208.91,151.49 L209.76,152.01 L210.61,152.54 L211.46,153.06 L212.31,153.58 L213.16,154.10 L214.01,154.63 L214.87,155.15 L215.72,155.67 L216.57,156.18 L217.43,156.70 L218.28,157.22 L219.13,157.74 L219.99,158.26 L220.84,158.77 L221.70,159.29 L222.56,159.80 L223.41,160.32 L224.27,160.83 L225.13,161.34 L225.98,161.86 L226.84,162.37 L227.70,162.88 L228.56,163.39 L229.42,163.90 L230.27,164.41 L231.13,164.92 L231.99,165.43 L232.85,165.94 L233.71,166.44 L234.58,166.95 L235.44,167.45 L236.30,167.96 L237.16,168.46 L238.02,168.97 L238.89,169.47 L239.75,169.98 L240.61,170.48 L241.48,170.98 L242.34,171.48 L243.21,171.98 L244.07,172.48 L244.94,172.98 L245.80,173.48 L246.67,173.98 L247.53,174.47 L248.40,174.97 L249.27,175.47 L250.13,175.96 L251.00,176.46 L251.87,176.95 L252.74,177.45 L253.61,177.94 L254.48,178.43 L255.35,178.92 L256.22,179.42 L257.09,179.91 L257.96,180.40 L258.83,180.89 L259.70,181.37 L260.57,181.86 L261.44,182.35 L262.32,182.84 L263.19,183.32 L264.06,183.81 L264.94,184.29 L265.81,184.78 L266.68,185.26 L267.56,185.75 L268.43,186.23 L269.31,186.71 L270.18,187.19 L271.06,187.67 L271.93,188.15 L272.81,188.63 L273.69,189.11 L274.57,189.59 L275.44,190.07 L276.32,190.55 L277.20,191.02 L278.08,191.50 L278.96,191.97 L279.84,192.45 L280.72,192.92 L281.60,193.40 L282.48,193.87 L283.36,194.34 L284.24,194.81 L285.12,195.28 L286.00,195.75 L286.88,196.22 L287.77,196.69 L288.65,197.16 L289.53,197.63 L290.41,198.10 L291.30,198.56 L292.18,199.03 L293.07,199.49 L293.95,199.96 L294.84,200.42 L295.72,200.89 L296.61,201.35 L297.49,201.81 L298.38,202.27 L299.27,202.73 L300.15,203.19 L301.04,203.65 L301.93,204.11 L302.82,204.57 L303.71,205.03 L304.59,205.48 L305.48,205.94 L306.37,206.40 L307.26,206.85 L308.15,207.31 L309.04,207.76 L309.93,208.21 L310.82,208.67 L311.72,209.12 L312.61,209.57 L313.50,210.02 L314.39,210.47 L315.28,210.92 L316.18,211.37 L317.07,211.82 L317.97,212.26 L318.86,212.71 L319.75,213.16 L320.65,213.60 L321.54,214.05 L322.44,214.49 L323.33,214.94 L324.23,215.38 L325.13,215.82 L326.02,216.26 L326.92,216.71 L327.82,217.15 L328.71,217.59 L329.61,218.03 L330.51,218.46 L331.41,218.90 L332.31,219.34 L333.21,219.78 L334.11,220.21 L335.01,220.65 L335.91,221.08 L336.81,221.52 L337.71,221.95 L338.61,222.38 L339.51,222.82 L340.41,223.25 L341.32,223.68 L342.22,224.11 L343.12,224.54 L344.02,224.97" stroke="#ffba66"/></g><path d="M72.3,0.3 V227.6" stroke="#6b6b6b" stroke-width="2.2" fill="none"/><path d="M71.2,227.6 H342.7" stroke="#6b6b6b" stroke-width="2.2" fill="none"/><path d="M72.3,0.3 H341.7 V227.6" stroke="#000" stroke-opacity="0.3" stroke-width="2.6" fill="none"/><path d="M72.3,0.3 H341.7 V227.6" stroke="#000" stroke-width="1.3" fill="none"/><path d="M76.90,228.70 V234.50 M124.80,228.70 V234.50 M172.70,228.70 V234.50 M220.60,228.70 V234.50 M268.50,228.70 V234.50 M316.40,228.70 V234.50 M65.40,28.65 H71.20 M65.40,58.29 H71.20 M65.40,87.93 H71.20 M65.40,117.57 H71.20 M65.40,147.21 H71.20 M65.40,176.85 H71.20 M65.40,206.49 H71.20" fill="none" stroke="#4a4a4a" stroke-width="2.0"/><path d="M86.48,228.70 V231.90 M96.06,228.70 V231.90 M105.64,228.70 V231.90 M115.22,228.70 V231.90 M134.38,228.70 V231.90 M143.96,228.70 V231.90 M153.54,228.70 V231.90 M163.12,228.70 V231.90 M182.28,228.70 V231.90 M191.86,228.70 V231.90 M201.44,228.70 V231.90 M211.02,228.70 V231.90 M230.18,228.70 V231.90 M239.76,228.70 V231.90 M249.34,228.70 V231.90 M258.92,228.70 V231.90 M278.08,228.70 V231.90 M287.66,228.70 V231.90 M297.24,228.70 V231.90 M306.82,228.70 V231.90 M325.98,228.70 V231.90 M335.56,228.70 V231.90" fill="none" stroke="#626262" stroke-width="1.6"/><text x="73.53" y="250.40" font-family="Liberation Sans, sans-serif" stroke="#000" stroke-width="0.55" stroke-linejoin="round" font-size="13.80" textLength="6.75" lengthAdjust="spacingAndGlyphs">0</text><text x="112.41" y="250.40" font-family="Liberation Sans, sans-serif" stroke="#000" stroke-width="0.55" stroke-linejoin="round" font-size="13.80" textLength="24.62" lengthAdjust="spacingAndGlyphs">250</text><text x="160.46" y="250.40" font-family="Liberation Sans, sans-serif" stroke="#000" stroke-width="0.55" stroke-linejoin="round" font-size="13.80" textLength="24.46" lengthAdjust="spacingAndGlyphs">500</text><text x="208.19" y="250.40" font-family="Liberation Sans, sans-serif" stroke="#000" stroke-width="0.55" stroke-linejoin="round" font-size="13.80" textLength="24.63" lengthAdjust="spacingAndGlyphs">750</text><text x="252.10" y="250.40" font-family="Liberation Sans, sans-serif" stroke="#000" stroke-width="0.55" stroke-linejoin="round" font-size="13.80" textLength="32.27" lengthAdjust="spacingAndGlyphs">1000</text><text x="299.99" y="250.40" font-family="Liberation Sans, sans-serif" stroke="#000" stroke-width="0.55" stroke-linejoin="round" font-size="13.80" textLength="32.27" lengthAdjust="spacingAndGlyphs">1250</text><text x="29.46" y="33.55" font-family="Liberation Sans, sans-serif" stroke="#000" stroke-width="0.55" stroke-linejoin="round" font-size="13.80" textLength="15.17" lengthAdjust="spacingAndGlyphs">10</text><rect x="46.35" y="25.95" width="6.30" height="1.15" fill="#000"/><text x="53.86" y="27.85" font-family="Liberation Sans, sans-serif" stroke="#000" stroke-width="0.55" stroke-linejoin="round" font-size="9.80" textLength="4.64" lengthAdjust="spacingAndGlyphs">1</text><text x="29.46" y="63.19" font-family="Liberation Sans, sans-serif" stroke="#000" stroke-width="0.55" stroke-linejoin="round" font-size="13.80" textLength="15.17" lengthAdjust="spacingAndGlyphs">10</text><rect x="46.35" y="55.59" width="6.30" height="1.15" fill="#000"/><text x="54.21" y="57.49" font-family="Liberation Sans, sans-serif" stroke="#000" stroke-width="0.55" stroke-linejoin="round" font-size="9.80" textLength="4.22" lengthAdjust="spacingAndGlyphs">3</text><text x="29.46" y="92.83" font-family="Liberation Sans, sans-serif" stroke="#000" stroke-width="0.55" stroke-linejoin="round" font-size="13.80" textLength="15.17" lengthAdjust="spacingAndGlyphs">10</text><rect x="46.35" y="85.23" width="6.30" height="1.15" fill="#000"/><text x="54.20" y="87.13" font-family="Liberation Sans, sans-serif" stroke="#000" stroke-width="0.55" stroke-linejoin="round" font-size="9.80" textLength="4.22" lengthAdjust="spacingAndGlyphs">5</text><text x="29.46" y="122.47" font-family="Liberation Sans, sans-serif" stroke="#000" stroke-width="0.55" stroke-linejoin="round" font-size="13.80" textLength="15.17" lengthAdjust="spacingAndGlyphs">10</text><rect x="46.35" y="114.87" width="6.30" height="1.15" fill="#000"/><text x="54.09" y="116.77" font-family="Liberation Sans, sans-serif" stroke="#000" stroke-width="0.55" stroke-linejoin="round" font-size="9.80" textLength="4.40" lengthAdjust="spacingAndGlyphs">7</text><text x="29.46" y="152.11" font-family="Liberation Sans, sans-serif" stroke="#000" stroke-width="0.55" stroke-linejoin="round" font-size="13.80" textLength="15.17" lengthAdjust="spacingAndGlyphs">10</text><rect x="46.35" y="144.51" width="6.30" height="1.15" fill="#000"/><text x="54.13" y="146.41" font-family="Liberation Sans, sans-serif" stroke="#000" stroke-width="0.55" stroke-linejoin="round" font-size="9.80" textLength="4.33" lengthAdjust="spacingAndGlyphs">9</text><text x="22.98" y="181.75" font-family="Liberation Sans, sans-serif" stroke="#000" stroke-width="0.55" stroke-linejoin="round" font-size="13.80" textLength="14.84" lengthAdjust="spacingAndGlyphs">10</text><rect x="40.15" y="174.15" width="5.90" height="1.15" fill="#000"/><text x="47.64" y="176.05" font-family="Liberation Sans, sans-serif" stroke="#000" stroke-width="0.55" stroke-linejoin="round" font-size="9.80" textLength="11.15" lengthAdjust="spacingAndGlyphs">11</text><text x="22.98" y="211.39" font-family="Liberation Sans, sans-serif" stroke="#000" stroke-width="0.55" stroke-linejoin="round" font-size="13.80" textLength="14.84" lengthAdjust="spacingAndGlyphs">10</text><rect x="40.15" y="203.79" width="5.90" height="1.15" fill="#000"/><text x="47.64" y="205.69" font-family="Liberation Sans, sans-serif" stroke="#000" stroke-width="0.55" stroke-linejoin="round" font-size="9.80" textLength="11.10" lengthAdjust="spacingAndGlyphs">13</text><text x="185.26" y="270.40" font-family="Liberation Sans, sans-serif" stroke="#000" stroke-width="0.55" stroke-linejoin="round" font-size="14.80" textLength="42.89" lengthAdjust="spacingAndGlyphs">E[eV]</text><g transform="translate(12.0,121.2) rotate(-90)"><text x="0" y="0" font-family="Liberation Sans, sans-serif" stroke="#000" stroke-width="0.15" font-size="15.7" font-style="italic" textLength="7.4" lengthAdjust="spacingAndGlyphs">f</text><text x="5.6" y="3.2" font-family="Liberation Sans, sans-serif" stroke="#000" stroke-width="0.55" stroke-linejoin="round" font-size="11" textLength="6.1" lengthAdjust="spacingAndGlyphs">0</text></g><line x1="210.1" y1="17.45" x2="239.9" y2="17.45" stroke="#000000" stroke-width="3.8" stroke-opacity="0.3"/><line x1="210.4" y1="17.45" x2="239.6" y2="17.45" stroke="#000000" stroke-width="2.8"/><text x="248.82" y="22.00" font-family="Liberation Sans, sans-serif" stroke="#000" stroke-width="0.55" stroke-linejoin="round" font-size="13.80" textLength="5.11" lengthAdjust="spacingAndGlyphs">t</text><rect x="258.8" y="15.60" width="8.8" height="4.6" fill="#000" fill-opacity="0.3"/><rect x="258.8" y="15.60" width="8.8" height="1.5" fill="#000" fill-opacity="0.6"/><rect x="258.8" y="18.70" width="8.8" height="1.5" fill="#000" fill-opacity="0.6"/><text x="273.03" y="22.00" font-family="Liberation Sans, sans-serif" stroke="#000" stroke-width="0.55" stroke-linejoin="round" font-size="13.80" textLength="28.23" lengthAdjust="spacingAndGlyphs">0.00</text><text x="305.89" y="22.00" font-family="Liberation Sans, sans-serif" stroke="#000" stroke-width="0.55" stroke-linejoin="round" font-size="13.80" font-style="italic" textLength="14.59" lengthAdjust="spacingAndGlyphs">μs</text><line x1="210.1" y1="37.15" x2="239.9" y2="37.15" stroke="#5e301a" stroke-width="3.8" stroke-opacity="0.3"/><line x1="210.4" y1="37.15" x2="239.6" y2="37.15" stroke="#5e301a" stroke-width="2.8"/><text x="248.82" y="41.63" font-family="Liberation Sans, sans-serif" stroke="#000" stroke-width="0.55" stroke-linejoin="round" font-size="13.80" textLength="5.11" lengthAdjust="spacingAndGlyphs">t</text><rect x="258.8" y="35.23" width="8.8" height="4.6" fill="#000" fill-opacity="0.3"/><rect x="258.8" y="35.23" width="8.8" height="1.5" fill="#000" fill-opacity="0.6"/><rect x="258.8" y="38.33" width="8.8" height="1.5" fill="#000" fill-opacity="0.6"/><text x="273.05" y="41.63" font-family="Liberation Sans, sans-serif" stroke="#000" stroke-width="0.55" stroke-linejoin="round" font-size="13.80" textLength="28.07" lengthAdjust="spacingAndGlyphs">3.34</text><text x="305.89" y="41.63" font-family="Liberation Sans, sans-serif" stroke="#000" stroke-width="0.55" stroke-linejoin="round" font-size="13.80" font-style="italic" textLength="14.59" lengthAdjust="spacingAndGlyphs">μs</text><line x1="210.1" y1="56.85" x2="239.9" y2="56.85" stroke="#d07848" stroke-width="3.8" stroke-opacity="0.3"/><line x1="210.4" y1="56.85" x2="239.6" y2="56.85" stroke="#d07848" stroke-width="2.8"/><text x="248.82" y="61.26" font-family="Liberation Sans, sans-serif" stroke="#000" stroke-width="0.55" stroke-linejoin="round" font-size="13.80" textLength="5.11" lengthAdjust="spacingAndGlyphs">t</text><rect x="258.8" y="54.86" width="8.8" height="4.6" fill="#000" fill-opacity="0.3"/><rect x="258.8" y="54.86" width="8.8" height="1.5" fill="#000" fill-opacity="0.6"/><rect x="258.8" y="57.96" width="8.8" height="1.5" fill="#000" fill-opacity="0.6"/><text x="272.86" y="61.26" font-family="Liberation Sans, sans-serif" stroke="#000" stroke-width="0.55" stroke-linejoin="round" font-size="13.80" textLength="28.48" lengthAdjust="spacingAndGlyphs">6.68</text><text x="305.89" y="61.26" font-family="Liberation Sans, sans-serif" stroke="#000" stroke-width="0.55" stroke-linejoin="round" font-size="13.80" font-style="italic" textLength="14.59" lengthAdjust="spacingAndGlyphs">μs</text><line x1="210.1" y1="76.55" x2="239.9" y2="76.55" stroke="#ffba66" stroke-width="3.8" stroke-opacity="0.3"/><line x1="210.4" y1="76.55" x2="239.6" y2="76.55" stroke="#ffba66" stroke-width="2.8"/><text x="248.82" y="80.89" font-family="Liberation Sans, sans-serif" stroke="#000" stroke-width="0.55" stroke-linejoin="round" font-size="13.80" textLength="5.11" lengthAdjust="spacingAndGlyphs">t</text><rect x="258.8" y="74.49" width="8.8" height="4.6" fill="#000" fill-opacity="0.3"/><rect x="258.8" y="74.49" width="8.8" height="1.5" fill="#000" fill-opacity="0.6"/><rect x="258.8" y="77.59" width="8.8" height="1.5" fill="#000" fill-opacity="0.6"/><text x="273.09" y="80.89" font-family="Liberation Sans, sans-serif" stroke="#000" stroke-width="0.55" stroke-linejoin="round" font-size="13.80" textLength="36.34" lengthAdjust="spacingAndGlyphs">10.02</text><text x="313.39" y="80.89" font-family="Liberation Sans, sans-serif" stroke="#000" stroke-width="0.55" stroke-linejoin="round" font-size="13.80" font-style="italic" textLength="14.59" lengthAdjust="spacingAndGlyphs">μs</text></g></svg></body></html>
